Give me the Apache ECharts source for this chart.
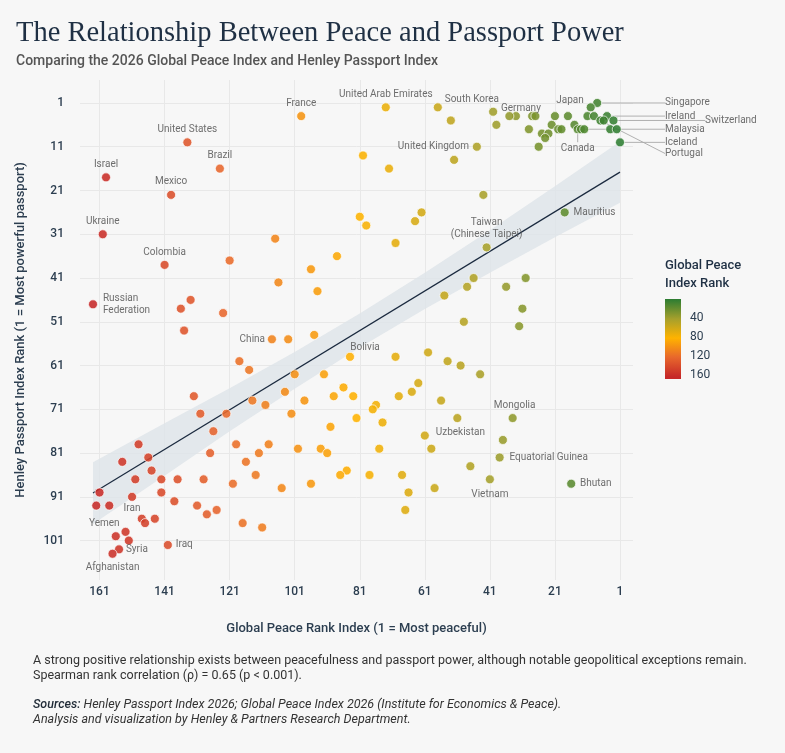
<!DOCTYPE html>
<html>
<head>
<meta charset="utf-8">
<title>Peace and Passport Power</title>
<script src="https://cdn.jsdelivr.net/npm/echarts@6.0.0/dist/echarts.min.js"></script>
<style>
  html, body { margin: 0; padding: 0; background: #f7f7f7; }
  #main { width: 785px; height: 753px; }
</style>
</head>
<body>
<div id="main"></div>
<script type="text/javascript">

// one entry per country: label (null = unlabelled), peace rank, passport rank
var names = [
  'Singapore', 'Japan', null, null, 'Ireland', 'Portugal', null, 'Switzerland', null, 'Canada',
  'Malaysia', null, null, null, 'Iceland', null, null, null, null, 'Germany',
  null, null, null, null, null, null, null, null, null, null,
  null, 'South Korea', null, 'United Arab Emirates', 'France', 'United States', 'Brazil', 'Israel', 'Mexico', 'Ukraine',
  'Colombia', 'United Kingdom', null, null, null, null, null, null, null, null,
  'Mauritius', null, 'Taiwan\n(Chinese Taipei)', null, null, null, null, null, null, null,
  null, null, null, null, null, null, null, 'Russian\nFederation', null, null,
  null, null, 'China', null, null, 'Bolivia', null, null, null, null,
  null, null, null, null, null, null, null, null, null, null,
  null, null, null, null, null, null, null, null, null, null,
  null, null, null, null, null, 'Mongolia', 'Uzbekistan', null, null, null,
  null, null, null, null, null, 'Equatorial Guinea', null, null, null, null,
  null, 'Vietnam', 'Bhutan', null, null, null, null, null, null, null,
  null, null, null, null, null, null, null, null, null, null,
  null, null, null, null, 'Iran', null, null, 'Yemen', null, null,
  null, null, null, null, null, null, null, null, null, null,
  'Iraq', 'Syria', 'Afghanistan'
];
var peaceRank = [
  8, 10, 11, 9, 5, 7, 6, 3, 15, 14,
  13, 12, 4, 2, 1, 17, 21, 28, 27, 33,
  35, 40, 39, 22, 29, 20, 19, 25, 23, 24,
  26, 57, 53, 73, 99, 134, 124, 159, 139, 160,
  141, 45, 52, 80, 72, 43, 81, 79, 62, 64,
  18, 70, 42, 107, 121, 88, 96, 106, 94, 46,
  48, 55, 36, 30, 31, 32, 49, 163, 133, 136,
  123, 135, 108, 103, 95, 84, 70, 60, 54, 50,
  44, 118, 115, 101, 92, 86, 104, 89, 83, 114,
  98, 110, 132, 130, 122, 102, 82, 90, 126, 63,
  65, 69, 56, 76, 77, 34, 51, 74, 61, 37,
  100, 93, 91, 75, 59, 38, 47, 85, 87, 78,
  68, 41, 16, 96, 66, 58, 67, 149, 127, 119,
  109, 154, 146, 116, 112, 145, 113, 150, 142, 137,
  129, 120, 105, 161, 151, 142, 138, 162, 158, 131,
  125, 128, 148, 147, 144, 117, 111, 153, 156, 152,
  140, 155, 157
];
var passportRank = [
  1, 2, 4, 4, 4, 5, 5, 5, 6, 7,
  7, 7, 7, 7, 10, 4, 4, 4, 4, 4,
  4, 3, 6, 6, 7, 7, 7, 8, 8, 9,
  11, 2, 5, 2, 4, 10, 16, 18, 22, 31,
  38, 11, 14, 13, 16, 22, 27, 29, 26, 28,
  26, 33, 34, 32, 37, 36, 39, 42, 44, 41,
  43, 45, 43, 41, 48, 52, 51, 47, 46, 48,
  49, 53, 55, 55, 54, 59, 59, 58, 60, 61,
  63, 60, 62, 63, 63, 66, 67, 68, 68, 69,
  69, 70, 68, 72, 72, 72, 73, 75, 76, 65,
  67, 68, 69, 70, 71, 73, 73, 74, 77, 78,
  80, 80, 81, 80, 80, 82, 84, 85, 86, 86,
  86, 87, 88, 88, 90, 89, 94, 79, 81, 79,
  79, 83, 82, 83, 81, 85, 86, 87, 87, 87,
  87, 88, 89, 90, 91, 90, 92, 93, 93, 93,
  94, 95, 96, 97, 96, 97, 98, 99, 100, 101,
  102, 103, 104
];

// fitted line and its confidence band
var fitPeace = [163, 1];
var fitPassport = [90.1, 16.8];
var bandPeace = [163, 141, 121, 101, 81, 61, 41, 21, 1];
var bandLow = [83.1, 74.2, 66.2, 57.9, 49.1, 39.8, 30.1, 20.0, 9.8];
var bandHigh = [97.2, 86.2, 76.0, 66.3, 56.9, 48.1, 39.8, 31.7, 23.8];

var xTicks = [161, 141, 121, 101, 81, 61, 41, 21, 1];
var yTicks = [1, 11, 21, 31, 41, 51, 61, 71, 81, 91, 101];
var scaleTicks = [40, 80, 120, 160];
var peaceColors = ['#2e7d32', '#a6a02c', '#ffb300', '#e8682c', '#c62828'];

var labelFont = { fontFamily: 'Roboto', fontSize: 10, color: '#5a5a5a', lineHeight: 12 };
var labelPos = {
  'France': { position: 'top', distance: 2 },
  'United Arab Emirates': { position: 'top', distance: 2 },
  'South Korea': { position: 'right', distance: 2, shift: [0, -8] },
  'Germany': { position: 'top', distance: 2, shift: [5, 5] },
  'Japan': { position: 'left', distance: 2, shift: [0, -7] },
  'United States': { position: 'top', distance: 2 },
  'Brazil': { position: 'top', distance: 2 },
  'Israel': { position: 'top', distance: 2 },
  'Mexico': { position: 'top', distance: 2 },
  'Ukraine': { position: 'top', distance: 2 },
  'Colombia': { position: 'top', distance: 2 },
  'United Kingdom': { position: 'left', distance: 3 },
  'Mauritius': { position: 'right', distance: 4 },
  'Taiwan\n(Chinese Taipei)': { position: 'top', distance: 2, align: 'center' },
  'Russian\nFederation': { position: 'right', distance: 5, align: 'left' },
  'China': { position: 'left', distance: 2 },
  'Bolivia': { position: 'top', distance: 2, shift: [15, 4] },
  'Mongolia': { position: 'top', distance: 2, shift: [2, 0] },
  'Uzbekistan': { position: 'bottom', distance: 1, shift: [3, 3] },
  'Equatorial Guinea': { position: 'right', distance: 5 },
  'Vietnam': { position: 'bottom', distance: 4 },
  'Bhutan': { position: 'right', distance: 4 },
  'Iran': { position: 'bottom', distance: 1 },
  'Yemen': { position: 'bottom', distance: 7, shift: [8, 0] },
  'Syria': { position: 'right', distance: 2 },
  'Afghanistan': { position: 'bottom', distance: 3 },
  'Iraq': { position: 'right', distance: 3 },
  'Singapore': { position: 'right' },
  'Ireland': { position: 'right' },
  'Switzerland': { position: 'right' },
  'Malaysia': { position: 'right' },
  'Iceland': { position: 'right' },
  'Portugal': { position: 'right' },
  'Canada': { position: 'bottom' }
};
// labels pulled out to a column on the right, with a leader line
var calloutColumn = 665;
var callouts = {
  'Singapore': { x: calloutColumn, dy: 0 },
  'Ireland': { x: calloutColumn, dy: 0 },
  'Switzerland': { x: calloutColumn + 40, dy: 0 },
  'Malaysia': { x: calloutColumn, dy: 0 },
  'Iceland': { x: calloutColumn, dy: 0 },
  'Portugal': { x: calloutColumn, dy: 33 },
  'Canada': { below: true, dy: 19 }
};

var pointData = peaceRank.map(function (p, i) {
  var item = { name: names[i] || '', value: [p, passportRank[i]] };
  var lp = names[i] ? labelPos[names[i]] : null;
  if (lp) {
    item.label = Object.assign({ show: true, formatter: '{b}', position: lp.position }, labelFont);
    if (lp.distance != null) item.label.distance = lp.distance;
    if (lp.align) item.label.align = lp.align;
    if (callouts[names[i]]) {
      item.labelLine = { show: true, lineStyle: { color: '#a8a8a8', width: 0.9 } };
    }
  }
  return item;
});

var axisText = { fontFamily: 'Roboto', fontSize: 12, fontWeight: 500, color: '#2c3e50' };

var chart = echarts.init(document.getElementById('main'));
var option = {
  backgroundColor: '#f7f7f7',
  animation: false,
  title: [
    {
      text: 'The Relationship Between Peace and Passport Power',
      left: 16, top: 19, padding: 0,
      textStyle: { fontFamily: 'Liberation Serif', fontSize: 28.5, fontWeight: 'normal', color: '#1f3044' }
    },
    {
      text: 'Comparing the 2026 Global Peace Index and Henley Passport Index',
      left: 16, top: 54, padding: 0,
      textStyle: { fontFamily: 'Roboto', fontSize: 14, fontWeight: 500, color: '#555555' }
    },
    {
      text: 'Global Peace\nIndex Rank',
      left: 665, top: 257, padding: 0,
      textStyle: { fontFamily: 'Roboto', fontSize: 13, fontWeight: 500, color: '#1f3044', lineHeight: 18 }
    },
    {
      text: 'A strong positive relationship exists between peacefulness and passport power, although notable geopolitical exceptions remain.\nSpearman rank correlation (\u03c1) = 0.65 (p < 0.001).',
      left: 33, top: 654, padding: 0,
      textStyle: { fontFamily: 'Roboto', fontSize: 12.5, fontWeight: 'normal', color: '#333333', lineHeight: 14.5 }
    },
    {
      text: '{b|Sources:} Henley Passport Index 2026; Global Peace Index 2026 (Institute for Economics & Peace).\nAnalysis and visualization by Henley & Partners Research Department.',
      left: 33, top: 698, padding: 0,
      textStyle: {
        fontFamily: 'Roboto', fontSize: 12.5, fontStyle: 'italic', fontWeight: 'normal', color: '#333333', lineHeight: 14.5,
        rich: { b: { fontFamily: 'Roboto', fontSize: 12.5, fontStyle: 'italic', fontWeight: 500, color: '#1f2a36' } }
      }
    }
  ],
  visualMap: {
    show: false,
    type: 'continuous',
    seriesIndex: 2,
    dimension: 0,
    min: 1,
    max: 163,
    inRange: { color: peaceColors }
  },
  grid: [
    { left: 80, top: 80, width: 553, height: 500 },
    { left: 665, top: 299, width: 16, height: 80 }
  ],
  xAxis: [
    {
      type: 'value', gridIndex: 0, inverse: true, min: -3, max: 167,
      name: 'Global Peace Rank Index (1 = Most peaceful)',
      nameLocation: 'middle', nameGap: 42,
      nameTextStyle: { fontFamily: 'Roboto', fontSize: 13, fontWeight: 500, color: '#2c3e50' },
      axisLine: { show: false },
      axisTick: { show: false, customValues: xTicks },
      axisLabel: Object.assign({ customValues: xTicks, margin: 6 }, axisText),
      splitLine: { show: true, lineStyle: { color: '#e8e8e8', width: 1 } }
    },
    { type: 'category', gridIndex: 1, data: ['scale'], show: false }
  ],
  yAxis: [
    {
      type: 'value', gridIndex: 0, inverse: true, min: -4.25, max: 110,
      name: 'Henley Passport Index Rank (1 = Most powerful passport)',
      nameLocation: 'middle', nameGap: 53, nameRotate: 90,
      nameTextStyle: { fontFamily: 'Roboto', fontSize: 13, fontWeight: 500, color: '#2c3e50' },
      axisLine: { show: false },
      axisTick: { show: false, customValues: yTicks },
      axisLabel: Object.assign({ customValues: yTicks, margin: 16 }, axisText),
      splitLine: { show: true, lineStyle: { color: '#e8e8e8', width: 1 } }
    },
    {
      type: 'value', gridIndex: 1, inverse: true, min: 0, max: 168, position: 'right',
      axisLine: { show: false },
      axisTick: { show: true, inside: true, length: 3, customValues: scaleTicks, lineStyle: { color: '#ffffff', width: 1 } },
      axisLabel: Object.assign({ customValues: scaleTicks, margin: 9 }, axisText, { fontWeight: 'normal' }),
      splitLine: { show: false }
    }
  ],
  series: [
    {
      name: 'band', type: 'custom', silent: true, z: 1,
      data: [[bandPeace[0], bandLow[0]]],
      renderItem: function (params, api) {
        var pts = [];
        for (var i = 0; i < bandPeace.length; i++) {
          pts.push(api.coord([bandPeace[i], bandLow[i]]));
        }
        for (var j = bandPeace.length - 1; j >= 0; j--) {
          pts.push(api.coord([bandPeace[j], bandHigh[j]]));
        }
        return {
          type: 'polygon',
          shape: { points: pts },
          style: { fill: '#dde3e9', opacity: 0.8 }
        };
      }
    },
    {
      name: 'fit', type: 'line', symbol: 'none', silent: true, z: 2,
      data: fitPeace.map(function (g, i) { return [g, fitPassport[i]]; }),
      lineStyle: { color: '#1b2a3f', width: 1.2 }
    },
    {
      name: 'countries', type: 'scatter', symbolSize: 9,
      data: pointData,
      itemStyle: { opacity: 0.88, borderColor: '#ffffff', borderWidth: 0.8 },
      label: { show: false },
      labelLayout: function (p) {
        var nm = names[p.dataIndex];
        var c = callouts[nm];
        if (!c) {
          var lp = labelPos[nm];
          if (lp && lp.shift) return { dx: lp.shift[0], dy: lp.shift[1] };
          return {};
        }
        var cx = p.rect.x + p.rect.width / 2;
        var cy = p.rect.y + p.rect.height / 2;
        if (c.below) {
          return { x: cx, y: cy + c.dy, align: 'center', verticalAlign: 'middle' };
        }
        return { x: c.x, y: cy + c.dy, align: 'left', verticalAlign: 'middle' };
      },
      z: 5
    },
    {
      name: 'scale', type: 'bar', xAxisIndex: 1, yAxisIndex: 1, silent: true,
      barWidth: '100%',
      data: [168],
      itemStyle: {
        color: new echarts.graphic.LinearGradient(0, 0, 0, 1, [
          { offset: 1 / 168, color: peaceColors[0] },
          { offset: 42 / 168, color: peaceColors[1] },
          { offset: 82 / 168, color: peaceColors[2] },
          { offset: 122 / 168, color: peaceColors[3] },
          { offset: 163 / 168, color: peaceColors[4] }
        ])
      }
    }
  ]
};
chart.setOption(option);
</script>
</body>
</html>
